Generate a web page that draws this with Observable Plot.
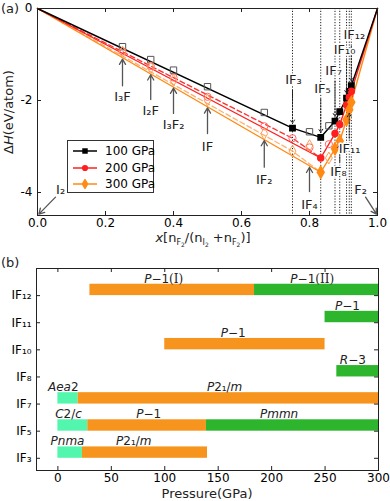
<!DOCTYPE html>
<html><head><meta charset="utf-8">
<script src="https://cdn.jsdelivr.net/npm/d3@7"></script>
<script src="https://cdn.jsdelivr.net/npm/@observablehq/plot@0.6"></script>
<style>
body{margin:0;background:#fff;font-family:"DejaVu Sans",sans-serif;}
#wrap{position:relative;width:390px;height:501px;overflow:hidden;}
#wrap svg{display:block;}
.legend{position:absolute;left:67px;top:140px;width:87px;height:53px;border:1px solid #333;background:#fff;box-sizing:border-box;font:12px "DejaVu Sans";}
.legend .row{position:absolute;left:4px;height:16px;}
.legend .row svg{position:absolute;left:0;top:3px;}
.legend .row span{position:absolute;left:33px;top:0;white-space:nowrap;line-height:16px;}
</style></head><body><div id="wrap"></div>
<script>
// ---------- Panel (a) data ----------
const seriesNames = ["100 GPa", "200 GPa", "300 GPa"];
const seriesColors = ["#000000", "#ff1f1f", "#ff8a14"];
const openColors = ["#555555", "#ff6a6a", "#ff9f55"];

// convex hull (stable) points
const hullX100 = [0, 0.75, 0.833, 0.875, 0.889, 0.909, 0.917, 0.923, 1];
const hullY100 = [0, -2.60, -2.80, -2.45, -2.24, -1.95, -1.80, -1.68, 0];
const hullX200 = [0, 0.833, 0.875, 0.889, 0.909, 0.917, 0.923, 1];
const hullY200 = [0, -3.25, -2.72, -2.52, -2.10, -1.93, -1.80, 0];
const hullX300 = [0, 0.833, 0.875, 0.889, 0.909, 0.917, 0.923, 1];
const hullY300 = [0, -3.56, -3.05, -2.88, -2.42, -2.20, -2.04, 0];

// metastable (open) points
const openX100 = [0.25, 0.333, 0.4, 0.5, 0.667, 0.8, 0.857];
const openY100 = [-0.83, -1.11, -1.34, -1.70, -2.26, -2.68, -2.55];
const openX200 = [0.25, 0.333, 0.4, 0.5, 0.667, 0.75, 0.8, 0.857];
const openY200 = [-0.93, -1.25, -1.50, -1.92, -2.56, -2.82, -3.02, -2.95];
const openX300 = [0.25, 0.333, 0.4, 0.5, 0.667, 0.75, 0.8, 0.857];
const openY300 = [-0.95, -1.29, -1.56, -1.99, -2.72, -3.10, -2.98, -3.25];

// dashed guide lines
const dashX200 = [0, 0.75, 0.833];
const dashY200 = [0, -2.82, -3.25];
const dashX300 = [0, 0.75, 0.833];
const dashY300 = [0, -3.10, -3.56];

// dotted vertical composition lines
const dottedX = [0.75, 0.833, 0.875, 0.889, 0.909, 0.917, 0.923];

// gray arrow annotations
const grayText = ["I₃F", "I₂F", "I₃F₂", "IF", "IF₂", "IF₄", "I₂", "F₂"];
const grayLabX = [0.25, 0.333, 0.40, 0.50, 0.667, 0.80, 0.068, 0.95];
const grayLabY = [-1.92, -2.22, -2.53, -3.00, -3.72, -4.26, -3.95, -3.95];
const grayAX1 = [0.25, 0.333, 0.40, 0.50, 0.667, 0.80, 0.053, 0.965];
const grayAY1 = [-1.68, -1.98, -2.28, -2.72, -3.45, -3.98, -4.10, -4.10];
const grayAX2 = [0.25, 0.333, 0.40, 0.50, 0.667, 0.80, 0.004, 0.997];
const grayAY2 = [-1.10, -1.44, -1.73, -2.16, -2.87, -3.45, -4.47, -4.47];

// dotted arrow annotations (IFn)
const ifText = ["IF₃", "IF₅", "IF₇", "IF₁₀", "IF₁₂", "IF₈", "IF₁₁"];
const ifLabX = [0.753, 0.838, 0.871, 0.903, 0.932, 0.885, 0.918];
const ifLabY = [-1.55, -1.74, -1.35, -0.90, -0.58, -3.56, -3.04];
const ifAX = [0.75, 0.833, 0.875, 0.909, 0.923, 0.889, 0.917];
const ifAY1 = [-1.78, -1.97, -1.58, -1.12, -0.82, -3.33, -2.82];
const ifAY2 = [-2.50, -2.70, -2.35, -1.85, -1.58, -2.95, -2.28];

// axis ticks
const xTicksA = [0, 0.2, 0.4, 0.6, 0.8, 1.0];
const yTicksA = [0, -2, -4];

// ---------- Panel (b) data ----------
const cats = ["IF3", "IF5", "IF7", "IF8", "IF10", "IF11", "IF12"];
const catLabels = ["IF₃", "IF₅", "IF₇", "IF₈", "IF₁₀", "IF₁₁", "IF₁₂"];
const barCat   = ["IF12", "IF12", "IF11", "IF10", "IF8", "IF7", "IF7", "IF5", "IF5", "IF5", "IF3", "IF3"];
const barStart = [30, 184, 250, 100, 261, 0, 19, 0, 28, 139, 0, 23];
const barEnd   = [184, 300, 300, 250, 300, 19, 300, 28, 139, 300, 23, 140];
const barPhase = ["o", "g", "g", "o", "g", "a", "o", "a", "o", "g", "a", "o"];
const phaseColor = {o: "#f7941d", g: "#2db52d", a: "#52f7ad"};

const phaseCat  = ["IF12", "IF12", "IF11", "IF10", "IF8", "IF7", "IF7", "IF5", "IF5", "IF5", "IF3", "IF3"];
const phaseX    = [99, 238, 271, 164, 276, 5, 156, 10, 85, 207, 9, 71];
const phaseText = ["P−1(I)", "P−1(II)", "P−1", "P−1", "R−3", "Aea2", "P2₁/m", "C2/c", "P−1", "Pmmn", "Pnma", "P2₁/m"];
const pTicks = [0, 50, 100, 150, 200, 250, 300];

// ---------- build ----------
const W = 390;
const rec = (xs, ys) => xs.map((x, i) => ({x, y: ys[i]}));
const innerPts = d => d.filter(p => p.x > 0 && p.x < 1);
const hulls = [rec(hullX100, hullY100), rec(hullX200, hullY200), rec(hullX300, hullY300)];
const opens = [rec(openX100, openY100), rec(openX200, openY200), rec(openX300, openY300)];
const symbols = ["square", "circle", "diamond"];
const grayAnn = grayText.map((t, i) => ({t, lx: grayLabX[i], ly: grayLabY[i], x1: grayAX1[i], y1: grayAY1[i], x2: grayAX2[i], y2: grayAY2[i]}));
const ifAnn = ifText.map((t, i) => ({t, lx: ifLabX[i], ly: ifLabY[i], x: ifAX[i], y1: ifAY1[i], y2: ifAY2[i]}));

const mA = {top: 8, right: 13, bottom: 30, left: 37};
const hA = 245;
const iwA = W - mA.left - mA.right, ihA = hA - mA.top - mA.bottom;
const TK = 4;

const svgA = Plot.plot({
  width: W, height: hA,
  marginTop: mA.top, marginRight: mA.right, marginBottom: mA.bottom, marginLeft: mA.left,
  style: {fontFamily: "DejaVu Sans", fontSize: "12px", background: "white", overflow: "visible"},
  x: {domain: [0, 1], label: null},
  y: {domain: [-4.5, 0], label: null},
  marks: [
    Plot.ruleX(dottedX, {stroke: "#222", strokeWidth: 1, strokeDasharray: "1.2,1.6"}),
    Plot.line(rec(dashX300, dashY300), {x: "x", y: "y", stroke: "#ffb070", strokeWidth: 1.3, strokeDasharray: "5,3"}),
    Plot.line(rec(dashX200, dashY200), {x: "x", y: "y", stroke: "#ff3030", strokeWidth: 1.3, strokeDasharray: "5,3"}),
    Plot.line(hulls[2], {x: "x", y: "y", stroke: seriesColors[2], strokeWidth: 1.4}),
    Plot.line(hulls[1], {x: "x", y: "y", stroke: seriesColors[1], strokeWidth: 1.4}),
    Plot.line(hulls[0], {x: "x", y: "y", stroke: seriesColors[0], strokeWidth: 1.4}),
    ...opens.map((d, i) => Plot.dot(d, {x: "x", y: "y", symbol: symbols[i], r: 3.6, stroke: openColors[i], fill: "none", strokeWidth: 1})),
    ...hulls.map((d, i) => Plot.dot(innerPts(d), {x: "x", y: "y", symbol: symbols[i], r: i === 2 ? 3.6 : 3, fill: seriesColors[i], stroke: seriesColors[i]})),
    Plot.arrow(grayAnn, {x1: "x1", y1: "y1", x2: "x2", y2: "y2", stroke: "#555", strokeWidth: 1.3, headLength: 7}),
    Plot.text(grayAnn, {x: "lx", y: "ly", text: "t", fontSize: 13, fill: "#222"}),
    Plot.arrow(ifAnn, {x1: "x", y1: "y1", x2: "x", y2: "y2", stroke: "#222", strokeWidth: 1, strokeDasharray: "1.5,1.5", headLength: 6}),
    Plot.text(ifAnn, {x: "lx", y: "ly", text: "t", fontSize: 13, fill: "#222", stroke: "white", strokeWidth: 3}),
    Plot.frame({stroke: "#222"}),
    Plot.ruleX(xTicksA, {stroke: "#222", insetTop: ihA - TK}),
    Plot.ruleX(xTicksA, {stroke: "#222", insetBottom: ihA - TK}),
    Plot.ruleY(yTicksA, {stroke: "#222", insetRight: iwA - TK}),
    Plot.ruleY(yTicksA, {stroke: "#222", insetLeft: iwA - TK}),
    Plot.axisX({ticks: xTicksA, tickFormat: d => d.toFixed(1), tickSize: 0, tickPadding: 3, label: null, fontSize: 12}),
    Plot.axisY({ticks: yTicksA, tickFormat: d => String(d), tickSize: 0, tickPadding: 5, label: null, fontSize: 12})
  ]
});

const mB = {top: 23, right: 12, bottom: 31, left: 36};
const hB = 256;
const iwB = W - mB.left - mB.right, ihB = hB - mB.top - mB.bottom;
const catIdx = c => cats.indexOf(c);
const bars = barCat.map((c, i) => ({y1: catIdx(c), y2: catIdx(c) + 0.42, x1: barStart[i], x2: barEnd[i], fill: phaseColor[barPhase[i]]}));
const phases = phaseCat.map((c, i) => ({y: catIdx(c) + 0.48, x: phaseX[i], t: phaseText[i]}));
const catTicks = cats.map((c, i) => i);

const svgB = Plot.plot({
  width: W, height: hB,
  marginTop: mB.top, marginRight: mB.right, marginBottom: mB.bottom, marginLeft: mB.left,
  style: {fontFamily: "DejaVu Sans", fontSize: "12px", background: "white", overflow: "visible"},
  x: {domain: [-20, 300], label: null},
  y: {domain: [-0.45, 7], label: null},
  color: {type: "identity"},
  marks: [
    Plot.rect(bars, {x1: "x1", x2: "x2", y1: "y1", y2: "y2", fill: "fill"}),
    Plot.text(phases, {x: "x", y: "y", text: "t", lineAnchor: "bottom", fontSize: 12, fill: "#222"}),
    Plot.frame({stroke: "#222"}),
    Plot.ruleX(pTicks, {stroke: "#222", insetTop: ihB - TK}),
    Plot.ruleX(pTicks, {stroke: "#222", insetBottom: ihB - TK}),
    Plot.ruleY(catTicks, {stroke: "#222", insetRight: iwB - TK}),
    Plot.ruleY(catTicks, {stroke: "#222", insetLeft: iwB - TK}),
    Plot.axisX({ticks: pTicks, tickFormat: d => String(d), tickSize: 0, tickPadding: 3, label: null, fontSize: 12}),
    Plot.axisY({ticks: catTicks, tickFormat: i => catLabels[i], tickSize: 0, tickPadding: 5, label: null, fontSize: 12})
  ]
});

// mixed italic / upright space-group labels
d3.select(svgB).selectAll('g[aria-label="text"] text').each(function () {
  const s = this.textContent;
  const el = d3.select(this);
  el.text(null);
  let depth = 0, runs = [];
  for (const ch of s) {
    if (ch === "(") depth++;
    const kind = depth > 0 ? "serif" : (/[A-Za-z]/.test(ch) ? "italic" : "normal");
    if (ch === ")") depth--;
    if (runs.length && runs[runs.length - 1].k === kind) runs[runs.length - 1].t += ch;
    else runs.push({k: kind, t: ch});
  }
  for (const r of runs) {
    const ts = el.append("tspan").text(r.t);
    ts.attr("font-style", r.k === "italic" ? "italic" : "normal");
    if (r.k === "serif") ts.attr("font-family", "DejaVu Serif");
  }
});

function addText(svg, attrs, parts) {
  const t = d3.select(svg).append("text");
  for (const [k, v] of Object.entries(attrs)) t.attr(k, v);
  for (const p of parts) {
    const s = t.append("tspan").text(p.t);
    if (p.dy) s.attr("dy", p.dy);
    if (p.fs) s.attr("font-size", p.fs);
    if (p.it) s.attr("font-style", "italic");
  }
  return t;
}
const base = {"font-family": "DejaVu Sans", fill: "#222"};
addText(svgA, {...base, x: 1, y: 13, "font-size": 13, "text-anchor": "start"}, [{t: "(a)"}]);
addText(svgA, {...base, transform: "translate(13,112) rotate(-90)", "text-anchor": "middle", "font-size": 13},
  [{t: "Δ"}, {t: "H", it: 1}, {t: "(eV/atom)"}]);
addText(svgA, {...base, x: 203, y: 242, "text-anchor": "middle", "font-size": 13}, [
  {t: "x", it: 1}, {t: "[n"}, {t: "F", fs: 8, dy: 3}, {t: "2", fs: 6, dy: 2},
  {t: "/(n", fs: 13, dy: -5}, {t: "I", fs: 8, dy: 3}, {t: "2", fs: 6, dy: 2},
  {t: " +n", fs: 13, dy: -5}, {t: "F", fs: 8, dy: 3}, {t: "2", fs: 6, dy: 2}, {t: ")]", fs: 13, dy: -5}
]);
addText(svgB, {...base, x: 1, y: 22, "font-size": 13, "text-anchor": "start"}, [{t: "(b)"}]);
addText(svgB, {...base, x: 207, y: 253, "text-anchor": "middle", "font-size": 13}, [{t: "Pressure(GPa)"}]);

const wrap = document.getElementById("wrap");
wrap.appendChild(svgA);
wrap.appendChild(svgB);

// legend
const leg = document.createElement("div");
leg.className = "legend";
seriesNames.forEach((name, i) => {
  const row = document.createElement("div");
  row.className = "row";
  row.style.top = (2 + i * 16.5) + "px";
  const s = d3.create("svg").attr("width", 26).attr("height", 10);
  s.append("line").attr("x1", 1).attr("x2", 25).attr("y1", 5).attr("y2", 5).attr("stroke", seriesColors[i]).attr("stroke-width", 1.5);
  const sym = [d3.symbolSquare, d3.symbolCircle, d3.symbolDiamond][i];
  const size = [30, 30, 40][i];
  s.append("path").attr("d", d3.symbol(sym, size)()).attr("transform", "translate(13,5)").attr("fill", seriesColors[i]);
  row.appendChild(s.node());
  const sp = document.createElement("span");
  sp.textContent = name;
  row.appendChild(sp);
  leg.appendChild(row);
});
wrap.appendChild(leg);
</script></body></html>
